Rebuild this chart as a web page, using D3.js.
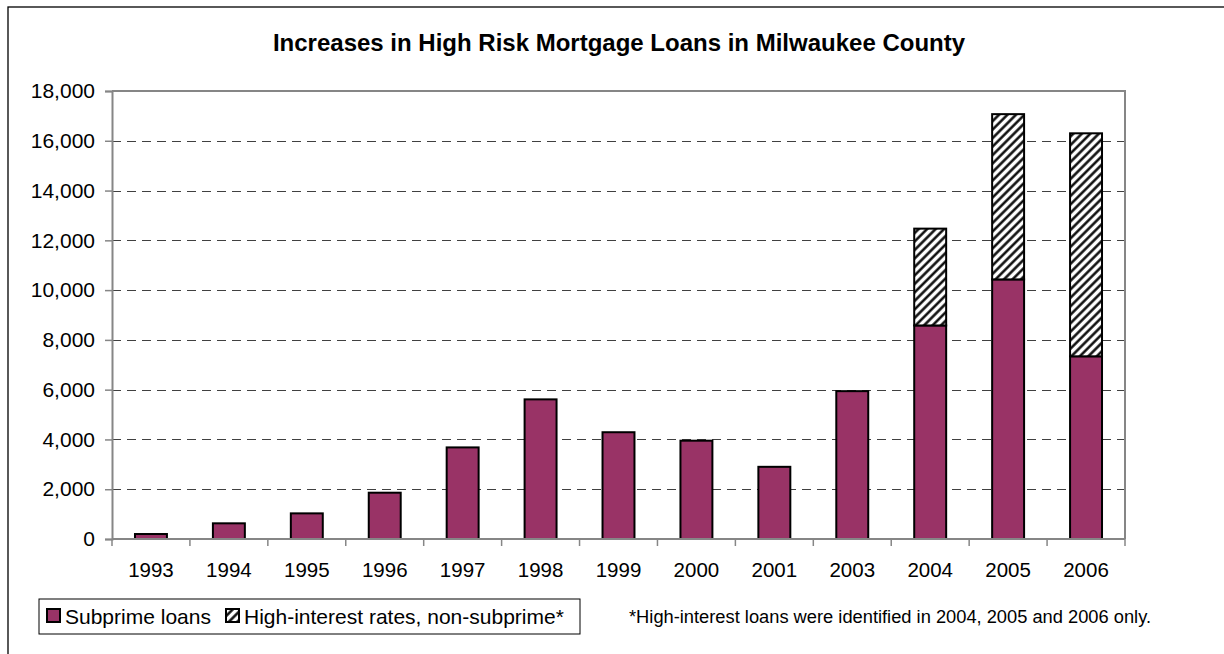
<!DOCTYPE html>
<html>
<head>
<meta charset="utf-8">
<script src="https://cdn.jsdelivr.net/npm/d3@7"></script>
<style>
  html, body { margin: 0; padding: 0; background: #fff; }
  svg { display: block; }
  text { font-family: Arial, "Liberation Sans", sans-serif; fill: #000; }
</style>
</head>
<body>
<svg id="chart" width="1224" height="654"></svg>
<script>
const categories = ["1993","1994","1995","1996","1997","1998","1999","2000","2001","2003","2004","2005","2006"];
const subprime = [200, 630, 1030, 1860, 3680, 5610, 4290, 3950, 2900, 5940, 8580, 10430, 7340];
const highInterest = [0, 0, 0, 0, 0, 0, 0, 0, 0, 0, 3890, 6640, 8960];
const yTicks = [0, 2000, 4000, 6000, 8000, 10000, 12000, 14000, 16000, 18000];
const seriesNames = ["Subprime loans", "High-interest rates, non-subprime*"];
const titleText = "Increases in High Risk Mortgage Loans in Milwaukee County";
const footnote = "*High-interest loans were identified in 2004, 2005 and 2006 only.";

(function () {
const svg = d3.select("#chart");
const purple = "#993366";

// hatch pattern
const defs = svg.append("defs");
const pat = defs.append("pattern")
  .attr("id", "hatch")
  .attr("patternUnits", "userSpaceOnUse")
  .attr("width", 6).attr("height", 6)
  .attr("patternTransform", "rotate(45)");
pat.append("rect").attr("width", 6).attr("height", 6).attr("fill", "#fff");
pat.append("line").attr("x1", 1.5).attr("y1", 0).attr("x2", 1.5).attr("y2", 6)
  .attr("stroke", "#000").attr("stroke-width", 2.4);

// outer chart border
svg.append("rect").attr("x", 8).attr("y", 7).attr("width", 1260).attr("height", 700)
  .attr("fill", "none").attr("stroke", "#000").attr("stroke-width", 1.3);

const pLeft = 112, pRight = 1125, pTop = 91, pBottom = 539;

const x = d3.scaleBand().domain(categories).range([pLeft, pRight])
  .paddingInner(0.59).paddingOuter(0.295);
const y = d3.scaleLinear().domain([0, 18000]).range([pBottom, pTop]);

// gridlines
svg.append("g").selectAll("line").data(yTicks.filter(d => d > 0 && d < 18000)).join("line")
  .attr("x1", pLeft).attr("x2", pRight)
  .attr("y1", d => Math.round(y(d)) + 0.5).attr("y2", d => Math.round(y(d)) + 0.5)
  .attr("stroke", "#404040").attr("stroke-width", 1.2)
  .attr("stroke-dasharray", "9,6");

// plot area border top/right
svg.append("path")
  .attr("d", `M${pLeft},${pTop}H${pRight}V${pBottom}`)
  .attr("fill", "none").attr("stroke", "#868686").attr("stroke-width", 2);

// bars
const stackData = categories.map((c, i) => ({ c, s: subprime[i], h: highInterest[i] }));
svg.append("g").selectAll("rect").data(stackData).join("rect")
  .attr("x", d => x(d.c)).attr("width", x.bandwidth())
  .attr("y", d => y(d.s)).attr("height", d => y(0) - y(d.s))
  .attr("fill", purple).attr("stroke", "#000").attr("stroke-width", 2);
svg.append("g").selectAll("rect").data(stackData.filter(d => d.h > 0)).join("rect")
  .attr("x", d => x(d.c)).attr("width", x.bandwidth())
  .attr("y", d => y(d.s + d.h)).attr("height", d => y(d.s) - y(d.s + d.h))
  .attr("fill", "url(#hatch)").attr("stroke", "#000").attr("stroke-width", 2);

// y axis
const yAxis = svg.append("g").attr("transform", `translate(${pLeft},0)`)
  .call(d3.axisLeft(y).tickValues(yTicks).tickSize(7).tickPadding(10).tickFormat(d3.format(",")));
yAxis.select(".domain").attr("stroke", "#868686").attr("stroke-width", 2);
yAxis.selectAll(".tick line").attr("stroke", "#868686").attr("stroke-width", 1.5);
yAxis.selectAll(".tick text").style("font-size", "21px").style("font-family", "Arial, 'Liberation Sans', sans-serif").attr("fill", "#000");

// x axis
const step = x.step();
const boundaries = categories.map(c => x(c) - (step - x.bandwidth()) / 2).concat([pRight]);
const xg = svg.append("g");
xg.append("line").attr("x1", pLeft).attr("x2", pRight).attr("y1", pBottom).attr("y2", pBottom)
  .attr("stroke", "#868686").attr("stroke-width", 2);
xg.selectAll("line.tk").data(boundaries).join("line").attr("class", "tk")
  .attr("x1", d => d).attr("x2", d => d).attr("y1", pBottom).attr("y2", pBottom + 7)
  .attr("stroke", "#868686").attr("stroke-width", 1.5);
xg.selectAll("text").data(categories).join("text")
  .attr("x", d => x(d) + x.bandwidth() / 2).attr("y", 577)
  .attr("text-anchor", "middle").style("font-size", "20.5px").text(d => d);

// title
svg.append("text").attr("x", 619).attr("y", 51).attr("text-anchor", "middle")
  .style("font-size", "24px").style("font-weight", "bold").text(titleText);

// legend
const lg = svg.append("g");
lg.append("rect").attr("x", 39).attr("y", 599).attr("width", 541).attr("height", 35)
  .attr("fill", "#fff").attr("stroke", "#000").attr("stroke-width", 1);
lg.append("rect").attr("x", 47).attr("y", 609).attr("width", 13).attr("height", 13)
  .attr("fill", purple).attr("stroke", "#000").attr("stroke-width", 2);
lg.append("text").attr("x", 65).attr("y", 624).style("font-size", "21px").text(seriesNames[0]);
lg.append("rect").attr("x", 226).attr("y", 609).attr("width", 13).attr("height", 13)
  .attr("fill", "url(#hatch)").attr("stroke", "#000").attr("stroke-width", 2);
lg.append("text").attr("x", 244).attr("y", 624).style("font-size", "21px").text(seriesNames[1]);

// footnote
svg.append("text").attr("x", 629).attr("y", 623).style("font-size", "18.3px").text(footnote);
})();
</script>
</body>
</html>
